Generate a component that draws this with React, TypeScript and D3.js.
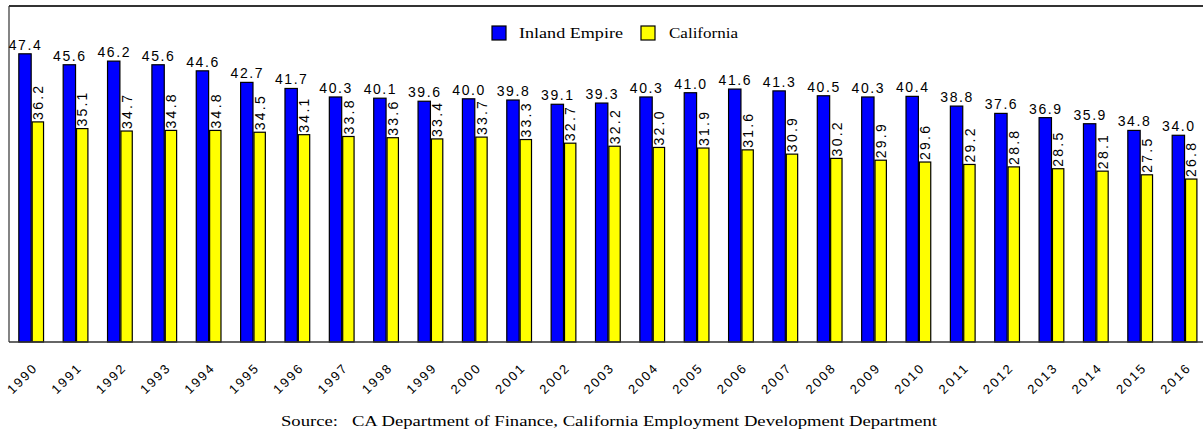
import React from 'react';
import * as d3 from 'd3';

const years = ['1990','1991','1992','1993','1994','1995','1996','1997','1998','1999','2000','2001','2002','2003','2004','2005','2006','2007','2008','2009','2010','2011','2012','2013','2014','2015','2016'];
const inlandEmpire = [47.4,45.6,46.2,45.6,44.6,42.7,41.7,40.3,40.1,39.6,40.0,39.8,39.1,39.3,40.3,41.0,41.6,41.3,40.5,40.3,40.4,38.8,37.6,36.9,35.9,34.8,34.0];
const california = [36.2,35.1,34.7,34.8,34.8,34.5,34.1,33.8,33.6,33.4,33.7,33.3,32.7,32.2,32.0,31.9,31.6,30.9,30.2,29.9,29.6,29.2,28.8,28.5,28.1,27.5,26.8];
const seriesNames = ['Inland Empire', 'California'];
const seriesColors = ['#0000ff', '#ffff00'];
const sourceText = 'Source:   CA Department of Finance, California Employment Development Department';

const SERIF = "'Liberation Serif', 'Times New Roman', serif";
const SANS = "'Liberation Sans', Arial, sans-serif";

export default function App() {
  const W = 1203, H = 435;
  const left = 9, top = 6, baseline = 342;
  const x = d3.scaleBand<string>().domain(years).range([left, left + 27 * 44.36]).padding(0);
  const bw = x.bandwidth();
  const xs = d3.scaleBand<string>().domain(seriesNames).range([0.21 * bw, 0.79 * bw]).padding(0);
  const y = d3.scaleLinear().domain([0, 55]).range([baseline, baseline - 6.08 * 55]);
  const sw = xs.bandwidth();
  const xIE = xs('Inland Empire')!;
  const xCA = xs('California')!;

  return (
    <svg width={W} height={H} style={{ position: 'absolute', left: 0, top: 0, background: '#fff' }}>
      <line x1={left} x2={W + 10} y1={top} y2={top} stroke="#333" strokeWidth={2} />
      <line x1={left} x2={left} y1={top} y2={baseline} stroke="#333" strokeWidth={1.2} />
      {years.map((yr, i) => {
        const gx = x(yr)!;
        const vIE = inlandEmpire[i];
        const vCA = california[i];
        const bx = gx + xIE;
        const cx = gx + xCA;
        return (
          <g key={yr}>
            <rect x={bx + 0.5} y={y(vIE)} width={sw - 0.5} height={baseline - y(vIE)} fill={seriesColors[0]} stroke="#000" strokeWidth={1.2} />
            <rect x={cx + 1} y={y(vCA)} width={sw - 1.5} height={baseline - y(vCA)} fill={seriesColors[1]} stroke="#000" strokeWidth={1.2} />
            <text x={bx + sw / 2} y={y(vIE) - 4} textAnchor="middle" fontFamily={SANS} fontSize={14} textLength={32} lengthAdjust="spacing" fill="#000">{vIE.toFixed(1)}</text>
            <text transform={`translate(${cx + sw / 2 + 0.5},${y(vCA) - 2}) rotate(-90)`} dominantBaseline="central" textAnchor="start" fontFamily={SANS} fontSize={14} textLength={34} lengthAdjust="spacing" fill="#000">{vCA.toFixed(1)}</text>
            <text transform={`translate(${gx + bw / 2 + 6},${370}) rotate(-45)`} textAnchor="end" fontFamily={SANS} fontSize={13} textLength={35} lengthAdjust="spacing" fill="#000">{yr}</text>
          </g>
        );
      })}
      <line x1={left} x2={W + 10} y1={baseline} y2={baseline} stroke="#333" strokeWidth={1.5} />
      <rect x={492} y={26} width={14} height={14} fill={seriesColors[0]} stroke="#000" strokeWidth={1.2} />
      <text x={519} y={38} fontFamily={SERIF} fontSize={15} textLength={104} lengthAdjust="spacingAndGlyphs" fill="#000">{seriesNames[0]}</text>
      <rect x={641} y={26} width={14} height={14} fill={seriesColors[1]} stroke="#000" strokeWidth={1.2} />
      <text x={669} y={38} fontFamily={SERIF} fontSize={15} textLength={69} lengthAdjust="spacingAndGlyphs" fill="#000">{seriesNames[1]}</text>
      <text x={281} y={426} xmlSpace="preserve" style={{ whiteSpace: 'pre' }} fontFamily={SERIF} fontSize={15} textLength={656} lengthAdjust="spacingAndGlyphs" fill="#000">{sourceText}</text>
    </svg>
  );
}
